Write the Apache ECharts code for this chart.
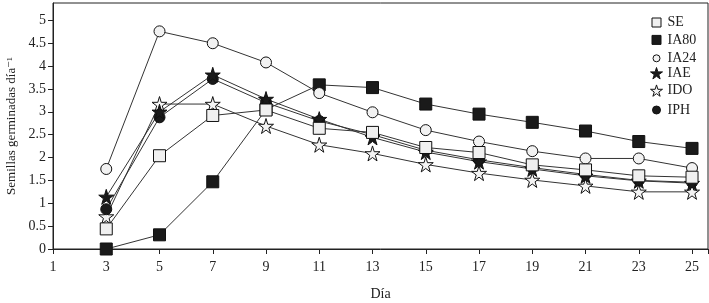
<!DOCTYPE html>
<html>
<head>
<meta charset="utf-8">
<script src="https://cdn.jsdelivr.net/npm/echarts@6/dist/echarts.min.js"></script>
<style>
  html, body { margin: 0; padding: 0; background: #fff; }
  #chart { width: 709px; height: 303px; }
</style>
</head>
<body>
<div id="chart"></div>
<script>
var dias = [3, 5, 7, 9, 11, 13, 15, 17, 19, 21, 23, 25];
var xTicks = [1, 3, 5, 7, 9, 11, 13, 15, 17, 19, 21, 23, 25];
var yTicks = [0, 0.5, 1, 1.5, 2, 2.5, 3, 3.5, 4, 4.5, 5];
var nombres = ['SE', 'IA80', 'IA24', 'IAE', 'IDO', 'IPH'];

var SE   = [0.44, 2.04, 2.92, 3.04, 2.64, 2.55, 2.22, 2.11, 1.84, 1.73, 1.60, 1.57];
var IA80 = [0.00, 0.31, 1.47, 3.05, 3.59, 3.53, 3.17, 2.95, 2.77, 2.58, 2.35, 2.20];
var IA24 = [1.75, 4.76, 4.50, 4.08, 3.41, 2.99, 2.60, 2.35, 2.14, 1.98, 1.98, 1.77];
var IAE  = [1.14, 3.00, 3.81, 3.28, 2.84, 2.44, 2.12, 1.91, 1.75, 1.60, 1.49, 1.44];
var IDO  = [0.71, 3.17, 3.17, 2.69, 2.28, 2.09, 1.85, 1.66, 1.51, 1.38, 1.25, 1.25];
var IPH  = [0.87, 2.88, 3.72, 3.20, 2.80, 2.50, 2.16, 1.95, 1.78, 1.63, 1.50, 1.46];

var star = 'path://M50,0 L61,35 L98,35 L68,57 L79,91 L50,70 L21,91 L32,57 L2,35 L39,35 Z';
var fontFam = '"Liberation Serif", "DejaVu Serif", serif';

// symbol, size on plot, fill, size in legend
var estilos = {
    SE:   ['rect', 12, '#f0f0f0', 9],
    IA80: ['rect', 12, '#1a1a1a', 9],
    IA24: ['circle', 11, '#f2f2f2', 7],
    IAE:  [star, 15, '#1a1a1a', 12],
    IDO:  [star, 15, '#f4f4f4', 12],
    IPH:  ['circle', 11, '#1a1a1a', 8]
};

function pts(arr) {
    return dias.map(function (d, i) { return [d, arr[i]]; });
}

function serie(name, arr) {
    var s = estilos[name];
    return {
        name: name,
        type: 'line',
        data: pts(arr),
        symbol: s[0],
        symbolSize: s[1],
        showAllSymbol: true,
        lineStyle: { color: '#333', width: 1 },
        itemStyle: { color: s[2], borderColor: '#111', borderWidth: 1 },
        emphasis: { disabled: true }
    };
}

// one legend per entry so each icon can keep its own size
var legends = nombres.map(function (n, i) {
    var s = estilos[n];
    return {
        orient: 'vertical',
        left: 656 - s[3] / 2,
        top: 20 + i * 17.4 - s[3] / 2,
        itemWidth: s[3],
        itemHeight: s[3],
        itemGap: 0,
        padding: 0,
        selectedMode: false,
        textStyle: { fontFamily: fontFam, fontSize: 14, color: '#222', lineHeight: s[3], padding: [0, 0, 0, 6 - s[3] / 2] },
        data: [{ name: n, icon: s[0], itemStyle: { color: s[2], borderColor: '#111', borderWidth: 1 } }]
    };
});

var myChart = echarts.init(document.getElementById('chart'));
var option = {
    animation: false,
    textStyle: { fontFamily: fontFam },
    grid: {
        left: 53, right: 1, top: 3, bottom: 54,
        outerBoundsMode: 'none', containLabel: false,
        show: true, borderColor: '#222', borderWidth: 1
    },
    legend: legends,
    xAxis: {
        type: 'value',
        min: 1,
        max: 25.6,
        interval: 2,
        name: 'Día',
        nameLocation: 'middle',
        nameGap: 38,
        nameTextStyle: { fontFamily: fontFam, fontSize: 14, color: '#222' },
        axisLine: { lineStyle: { color: '#222', width: 1 } },
        axisTick: { length: 5, lineStyle: { color: '#222' } },
        axisLabel: {
            fontFamily: fontFam, fontSize: 14, color: '#222', margin: 11,
            formatter: function (v) { return xTicks.indexOf(v) >= 0 ? String(v) : ''; }
        },
        splitLine: { show: false }
    },
    yAxis: {
        type: 'value',
        min: 0,
        max: 5.38,
        interval: 0.5,
        name: 'Semillas germinadas día⁻¹',
        nameLocation: 'middle',
        nameGap: 33,
        nameTextStyle: { fontFamily: fontFam, fontSize: 13, color: '#222' },
        axisLine: { show: true, lineStyle: { color: '#222', width: 1 } },
        axisTick: { show: true, length: 5, lineStyle: { color: '#222' } },
        axisLabel: {
            fontFamily: fontFam, fontSize: 14, color: '#222', margin: 7,
            showMaxLabel: false,
            formatter: function (v) { return yTicks.indexOf(v) >= 0 ? String(v) : ''; }
        },
        splitLine: { show: false }
    },
    series: [
        serie('IA80', IA80),
        serie('IA24', IA24),
        serie('IDO', IDO),
        serie('IPH', IPH),
        serie('IAE', IAE),
        serie('SE', SE)
    ]
};
myChart.setOption(option);
window.onresize = myChart.resize;
</script>
</body>
</html>
